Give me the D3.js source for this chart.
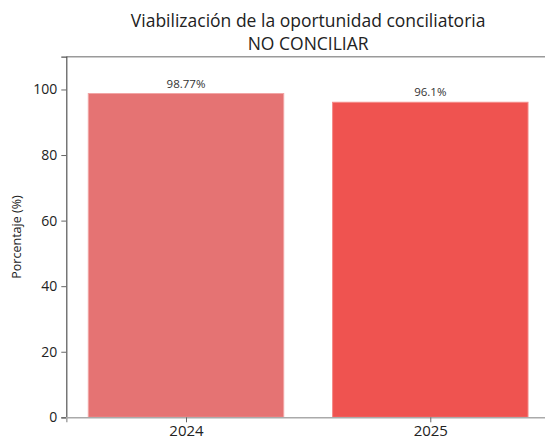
<!DOCTYPE html>
<html>
<head>
<meta charset="utf-8">
<script src="https://cdn.jsdelivr.net/npm/d3@7"></script>
<style>
  body { margin: 0; background: #fff; }
  text { font-family: "Open Sans", Lato, sans-serif; fill: #222; }
</style>
</head>
<body>
<div id="chart"></div>
<script>
const years = ["2024", "2025"];
const values = [98.77, 96.1];
const labels = ["98.77%", "96.1%"];
const colors = ["#e57373", "#ef5350"];
const edges = ["#f2a5a5", "#f58a88"];
const yTicks = [0, 20, 40, 60, 80, 100];

const width = 545;
const height = 440;
const margin = {top: 56.7, left: 66.3, bottom: 22.7};
const plotRight = 550;   // right spine sits just outside the picture

const svg = d3.select("#chart")
    .append("svg")
        .attr("width", width)
        .attr("height", height);

const xScale = d3.scaleLinear()
    .domain([-0.49, 1.49])
    .range([margin.left, plotRight]);

const yScale = d3.scaleLinear()
    .domain([0, 110])
    .range([height - margin.bottom, margin.top]);

const barW = xScale(0.8) - xScale(0);

// bars
svg.selectAll("rect.bar")
    .data(values)
    .join("rect")
        .attr("class", "bar")
        .attr("x", (d, i) => xScale(i) - barW / 2)
        .attr("y", d => yScale(d))
        .attr("width", barW)
        .attr("height", d => yScale(0) - yScale(d))
        .attr("fill", (d, i) => colors[i])
        .attr("stroke", (d, i) => edges[i])
        .attr("stroke-width", 1);

// value labels
svg.selectAll("text.val")
    .data(values)
    .join("text")
        .attr("class", "val")
        .attr("x", (d, i) => xScale(i))
        .attr("y", d => yScale(d) - 6)
        .attr("text-anchor", "middle")
        .style("font-size", "11.5px")
        .style("fill", "#333")
        .text((d, i) => labels[i]);

// frame
svg.append("line")
    .attr("x1", margin.left).attr("x2", plotRight)
    .attr("y1", yScale(110)).attr("y2", yScale(110))
    .attr("stroke", "#9a9a9a").attr("stroke-width", 1.6);

// y axis
const yAxis = svg.append("g")
    .attr("transform", "translate(" + margin.left + ",0)")
    .call(d3.axisLeft(yScale).tickValues(yTicks).tickSize(5).tickPadding(4));
yAxis.select(".domain").attr("stroke", "#555").attr("stroke-width", 1.2);
yAxis.selectAll(".tick line").attr("stroke", "#666");
yAxis.selectAll(".tick text").style("font-size", "14px").style("fill", "#222");

// x axis
const xAxis = svg.append("g")
    .attr("transform", "translate(0," + yScale(0) + ")")
    .call(d3.axisBottom(xScale).tickValues([0, 1]).tickFormat(i => years[i]).tickSize(5).tickPadding(3));
xAxis.select(".domain").attr("stroke", "#aaa").attr("stroke-width", 1.6);
xAxis.selectAll(".tick line").attr("stroke", "#666");
xAxis.selectAll(".tick text").style("font-size", "15px").style("fill", "#222");

// y label
svg.append("text")
    .attr("transform", "translate(21," + yScale(55) + ") rotate(-90)")
    .attr("text-anchor", "middle")
    .style("font-size", "12.5px")
    .text("Porcentaje (%)");

// title
const cx = (margin.left + plotRight) / 2;
svg.append("text")
    .attr("x", cx).attr("y", 27)
    .attr("text-anchor", "middle")
    .style("font-size", "17.5px")
    .text("Viabilización de la oportunidad conciliatoria");
svg.append("text")
    .attr("x", cx).attr("y", 50)
    .attr("text-anchor", "middle")
    .style("font-size", "17.5px")
    .text("NO CONCILIAR");
</script>
</body>
</html>
